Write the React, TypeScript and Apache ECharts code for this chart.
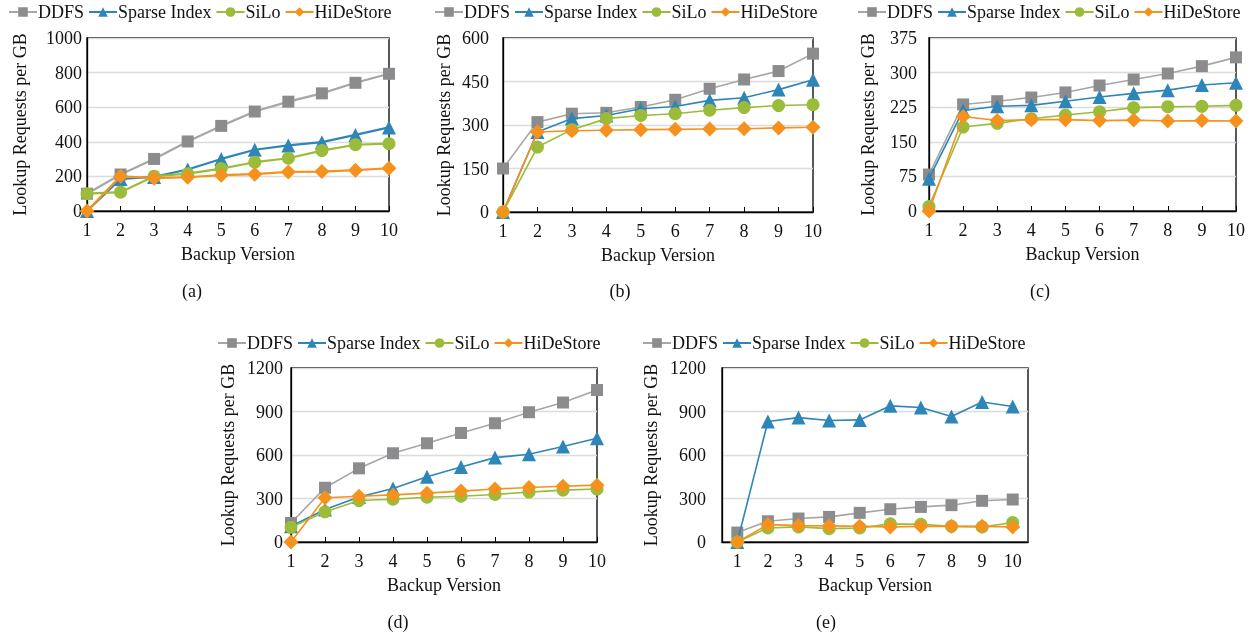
import React, { useEffect, useRef } from "react";
import * as echarts from "echarts";

const versions = ["1", "2", "3", "4", "5", "6", "7", "8", "9", "10"];
const seriesNames = ["DDFS", "Sparse Index", "SiLo", "HiDeStore"];

// (a)
const aDDFS = [100, 211, 301, 402, 492, 575, 632, 680, 741, 793];
const aSparse = [0, 185, 197, 240, 301, 354, 379, 398, 440, 483];
const aSiLo = [100, 109, 201, 216, 245, 282, 305, 349, 383, 389];
const aHiDe = [0, 201, 190, 195, 207, 213, 226, 228, 236, 247];
// (b)
const bDDFS = [150, 310, 339, 342, 362, 387, 425, 457, 486, 546];
const bSparse = [0, 276, 322, 333, 356, 364, 385, 394, 422, 456];
const bSiLo = [0, 224, 284, 322, 333, 339, 351, 360, 367, 370];
const bHiDe = [0, 276, 280, 282, 284, 285, 286, 287, 290, 292];
// (c)
const cDDFS = [79, 231, 238, 246, 257, 272, 285, 298, 314, 333];
const cSparse = [70, 218, 227, 229, 238, 247, 255, 262, 273, 278];
const cSiLo = [10, 182, 190, 200, 208, 215, 224, 226, 227, 229];
const cHiDe = [0, 205, 196, 198, 198, 196, 197, 195, 196, 195];
// (d)
const dDDFS = [131, 374, 508, 612, 681, 752, 819, 895, 962, 1048];
const dSparse = [108, 224, 311, 369, 450, 517, 582, 605, 658, 715];
const dSiLo = [101, 208, 286, 295, 309, 316, 328, 344, 358, 365];
const dHiDe = [0, 305, 316, 325, 337, 351, 365, 376, 385, 392];
// (e)
const eDDFS = [65, 143, 162, 173, 201, 226, 242, 254, 284, 293];
const eSparse = [0, 831, 858, 838, 842, 939, 928, 865, 965, 935];
const eSiLo = [0, 97, 104, 92, 97, 125, 122, 108, 104, 134];
const eHiDe = [0, 120, 113, 111, 108, 104, 108, 108, 108, 104];

const yMax = [1000, 600, 375, 1200, 1200];
const yStep = [200, 150, 75, 300, 300];
const captions = ["(a)", "(b)", "(c)", "(d)", "(e)"];

const panels = [
  [aDDFS, aSparse, aSiLo, aHiDe],
  [bDDFS, bSparse, bSiLo, bHiDe],
  [cDDFS, cSparse, cSiLo, cHiDe],
  [dDDFS, dSparse, dSiLo, dHiDe],
  [eDDFS, eSparse, eSiLo, eHiDe],
];

const FONT = "Liberation Serif";

const grids = [
  { left: 87, top: 38, width: 302, height: 173 },
  { left: 503, top: 38, width: 310, height: 174 },
  { left: 929, top: 38, width: 307, height: 173 },
  { left: 291, top: 368, width: 306, height: 174 },
  { left: 722, top: 368, width: 306, height: 174 },
];
const legendPos = [
  { left: 8, top: 3 },
  { left: 434, top: 3 },
  { left: 857, top: 3 },
  { left: 217, top: 334 },
  { left: 642, top: 334 },
];
const yNameGap = [58, 50, 52, 54, 62];
const yLabelMargin = [5, 14, 12, 8, 16];
const boundary = [false, false, false, false, true];
const captionPos = [
  [192, 291],
  [620, 291],
  [1040, 291],
  [398, 622],
  [826, 622],
];

const styles = [
  { line: "#a6a6a6", sym: "#8c8c8e", symbol: "rect", size: 12 },
  { line: "#2e86b8", sym: "#2e86b8", symbol: "triangle", size: 14 },
  { line: "#9bbb3b", sym: "#9bbb3b", symbol: "circle", size: 13 },
  { line: "#f5921e", sym: "#f5921e", symbol: "diamond", size: 15 },
];

export default function App() {
  const ref = useRef<HTMLDivElement>(null);
  useEffect(() => {
    document.body.style.margin = "0";
    const chart = echarts.init(ref.current!, undefined, { renderer: "svg" });
    const series: any[] = [];
    panels.forEach((p, gi) => {
      p.forEach((data, si) => {
        const st = styles[si];
        series.push({
          type: "line",
          name: seriesNames[si],
          xAxisIndex: gi,
          yAxisIndex: gi,
          data,
          symbol: st.symbol,
          symbolSize: st.size,
          lineStyle: { color: st.line, width: gi === 0 ? 2.2 : 1.6 },
          itemStyle: { color: st.sym },
          z: 2 + si,
        });
      });
    });
    const option: any = {
      animation: false,
      textStyle: { fontFamily: FONT },
      grid: grids.map((g) => ({ ...g, show: true, borderColor: "#000", borderWidth: 1.3, backgroundColor: "transparent" })),
      legend: legendPos.map((lp) => ({
        ...lp,
        data: seriesNames,
        itemWidth: 28,
        itemHeight: 12,
        itemGap: 4,
        textStyle: { fontFamily: FONT, fontSize: 18, color: "#111", padding: [0, 0, 0, -4] },
        padding: 0,
      })),
      xAxis: grids.map((_, gi) => ({
        type: "category",
        gridIndex: gi,
        data: versions,
        boundaryGap: boundary[gi],
        name: "Backup Version",
        nameLocation: "middle",
        nameGap: 34,
        nameTextStyle: { fontFamily: FONT, fontSize: 18, color: "#111" },
        axisLine: { lineStyle: { color: "#000", width: 1.3 } },
        axisTick: { inside: true, length: 5, alignWithLabel: true, lineStyle: { color: "#000" } },
        axisLabel: { fontFamily: FONT, fontSize: 18, color: "#111", margin: 10, interval: 0 },
        splitLine: { show: false },
      })),
      yAxis: grids.map((_, gi) => ({
        type: "value",
        gridIndex: gi,
        min: 0,
        max: yMax[gi],
        interval: yStep[gi],
        name: "Lookup Requests per GB",
        nameLocation: "middle",
        nameGap: yNameGap[gi],
        nameTextStyle: { fontFamily: FONT, fontSize: 18, color: "#111" },
        axisLine: { show: true, lineStyle: { color: "#000", width: 1.3 } },
        axisTick: { show: false },
        axisLabel: {
          fontFamily: FONT,
          fontSize: 18,
          color: "#111",
          margin: yLabelMargin[gi],
          formatter: (v: number) => String(v),
        },
        splitLine: { show: true, lineStyle: { color: "#dcdcdc", width: 1.3 } },
      })),
      graphic: captions.map((c, i) => ({
        type: "text",
        x: captionPos[i][0],
        y: captionPos[i][1],
        style: {
          text: c,
          fontFamily: FONT,
          fontSize: 18,
          fill: "#111",
          textAlign: "center",
          textVerticalAlign: "middle",
        },
      })),
      series,
    };
    chart.setOption(option);
    return () => chart.dispose();
  }, []);
  return <div ref={ref} style={{ position: "fixed", left: 0, top: 0, width: 1251, height: 634 }} />;
}
